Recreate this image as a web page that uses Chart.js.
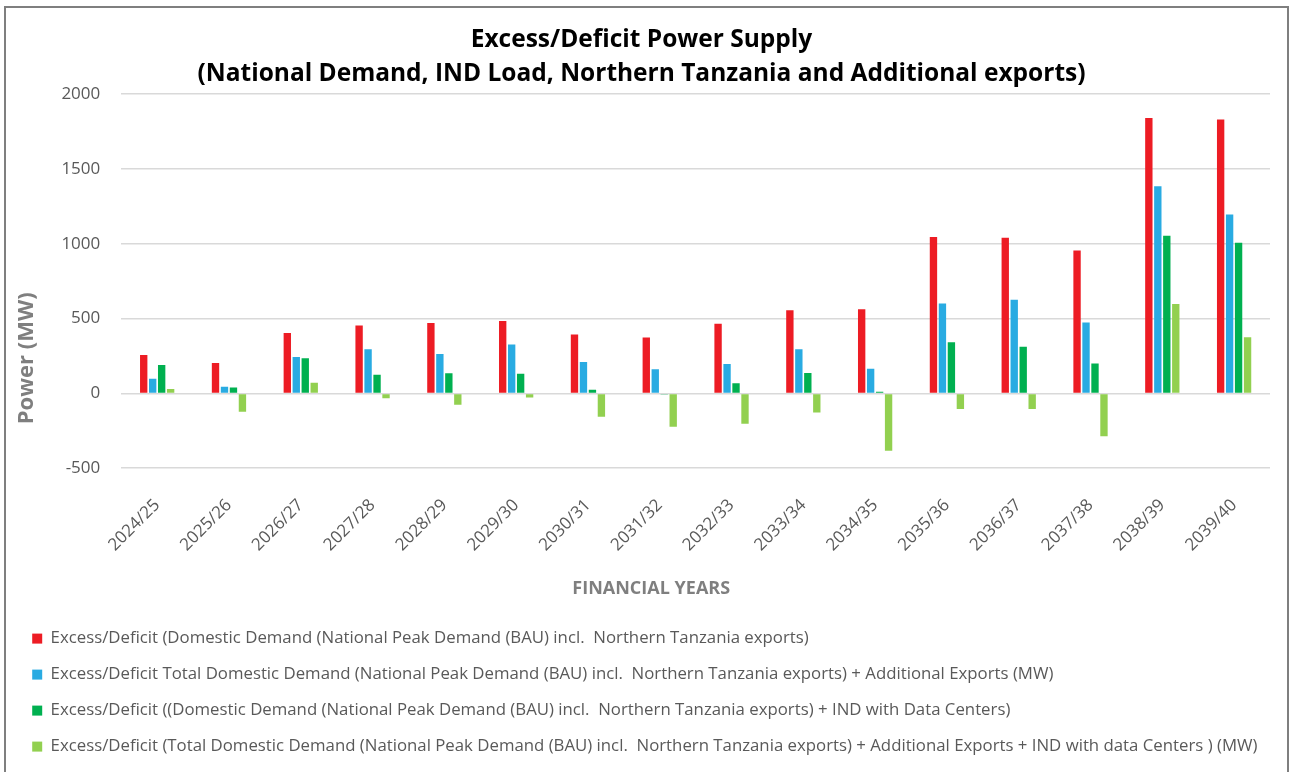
<!DOCTYPE html>
<html>
<head>
<meta charset="utf-8">
<script src="https://cdn.jsdelivr.net/npm/chart.js@4.4.1/dist/chart.umd.min.js"></script>
<style>
  html, body { margin: 0; padding: 0; background: #fff; }
  #wrap { position: absolute; left: 0; top: 0; width: 1295px; height: 772px; }
  #frame { position: absolute; left: 4px; top: 6px; width: 1281px; height: 800px;
           border: 2px solid #7f7f7f; pointer-events: none; }
</style>
</head>
<body>
<div id="wrap"><canvas id="chart" width="1295" height="772"></canvas></div>
<div id="frame"></div>
<script>
// Financial years on the x axis
const years = ['2024/25','2025/26','2026/27','2027/28','2028/29','2029/30','2030/31','2031/32',
               '2032/33','2033/34','2034/35','2035/36','2036/37','2037/38','2038/39','2039/40'];

// Excess/deficit per scenario (MW)
const domesticNorthern = [257, 203, 404, 453, 471, 484, 393, 373, 466, 556, 562, 1045, 1040, 955, 1841, 1830];
const totalWithExports = [98, 45, 243, 295, 263, 326, 210, 161, 196, 295, 165, 600, 625, 473, 1384, 1196];
const domesticWithIND  = [190, 40, 234, 125, 134, 132, 25, -8, 67, 136, 11, 341, 312, 199, 1054, 1007];
const totalExportsIND  = [29, -123, 71, -33, -76, -27, -156, -223, -203, -127, -384, -105, -105, -286, 598, 375];

const seriesLabels = [
  'Excess/Deficit (Domestic Demand (National Peak Demand (BAU) incl.  Northern Tanzania exports)',
  'Excess/Deficit Total Domestic Demand (National Peak Demand (BAU) incl.  Northern Tanzania exports) + Additional Exports (MW)',
  'Excess/Deficit ((Domestic Demand (National Peak Demand (BAU) incl.  Northern Tanzania exports) + IND with Data Centers)',
  'Excess/Deficit (Total Domestic Demand (National Peak Demand (BAU) incl.  Northern Tanzania exports) + Additional Exports + IND with data Centers ) (MW)'
];
const yTicks = [-500, 0, 500, 1000, 1500, 2000];

const colors = ['#ED1C24', '#29ABE2', '#00B050', '#92D050'];
const seriesValues = [domesticNorthern, totalWithExports, domesticWithIND, totalExportsIND];

const FONT = "'Open Sans', 'DejaVu Sans', sans-serif";
// trailing blanks nudge the axis titles off the plot-area centre
const pad = n => ' '.repeat(n);

new Chart(document.getElementById('chart'), {
  type: 'bar',
  data: {
    labels: years,
    datasets: seriesValues.map((vals, i) => ({
      label: seriesLabels[i],
      data: vals,
      backgroundColor: colors[i],
      borderWidth: 0,
      categoryPercentage: 0.5,
      barPercentage: 0.82
    }))
  },
  options: {
    responsive: false,
    animation: false,
    layout: { padding: { left: 13, right: 25, top: 0, bottom: 7 } },
    plugins: {
      tooltip: { enabled: false },
      title: {
        display: true,
        text: ['Excess/Deficit Power Supply',
               '(National Demand, IND Load, Northern Tanzania and Additional exports)'],
        color: '#000',
        font: { family: FONT, size: 24.5, weight: 'bold', lineHeight: 1.39 },
        padding: { top: 23, bottom: 3 }
      },
      legend: {
        position: 'bottom',
        align: 'start',
        labels: {
          boxWidth: 10,
          boxHeight: 10,
          padding: 19.2,
          color: '#595959',
          font: { family: FONT, size: 16.8 }
        }
      }
    },
    scales: {
      x: {
        grid: { display: false, drawTicks: false },
        border: { display: false },
        // fixed band for the slanted year labels and the axis title
        afterFit: s => { s.paddingLeft = 0; s.height = 142.8; },
        ticks: {
          color: '#595959',
          font: { family: FONT, size: 17 },
          minRotation: 45,
          maxRotation: 45,
          padding: 27
        },
        title: {
          display: true,
          text: 'FINANCIAL YEARS' + pad(19),
          color: '#7f7f7f',
          font: { family: FONT, size: 18, weight: 'bold' },
          padding: { top: 0, bottom: 11 }
        }
      },
      y: {
        min: -500,
        max: 2000,
        afterBuildTicks: axis => { axis.ticks = yTicks.map(v => ({ value: v })); },
        grid: { color: '#d9d9d9', lineWidth: 1.5, drawTicks: false },
        border: { display: false },
        ticks: {
          color: '#595959',
          font: { family: FONT, size: 17 },
          padding: 21,
          callback: v => String(v)
        },
        title: {
          display: true,
          text: 'Power (MW)' + pad(27),
          color: '#7f7f7f',
          font: { family: FONT, size: 22, weight: 'bold' },
          padding: { top: 1, bottom: 0 }
        }
      }
    }
  }
});
</script>
</body>
</html>
